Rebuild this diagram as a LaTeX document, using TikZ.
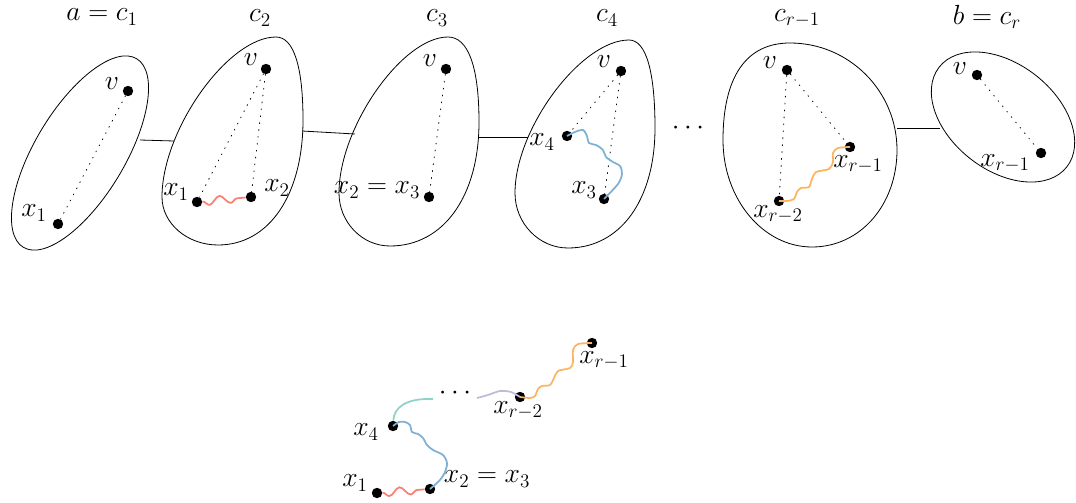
\documentclass[tikz,border=0pt]{standalone}
\usetikzlibrary{decorations.pathmorphing}
\definecolor{cred}{HTML}{FB8072}
\definecolor{cblue}{HTML}{7EB0D5}
\definecolor{cteal}{HTML}{8DD3C7}
\definecolor{cpurple}{HTML}{BEBADA}
\definecolor{corange}{HTML}{FDB462}
\tikzset{
  dotpt/.style={circle,fill=black,inner sep=0pt,minimum size=7.8pt},
  blob/.style={draw=black,line width=0.6pt},
  link/.style={draw=black,line width=0.6pt},
  dotline/.style={line width=0.6pt,dash pattern=on 0.7pt off 4.5pt,line cap=round},
  lbl/.style={inner sep=0pt,font=\huge},
  curvy/.style={line width=1.3pt},
  wave/.style={curvy,decorate,decoration={snake,mirror,segment length=16pt,amplitude=3pt}},
}
% egg outline through its top, right, bottom and left extreme points
\newcommand\eggblob[8]{%
  \draw[blob] (#1,#2)
    .. controls ({#1+0.65*(#3-#1)},#2) and (#3,{#4-0.65*(#4-#2)}) .. (#3,#4)
    .. controls (#3,{#4+0.6*(#6-#4)}) and ({#5+0.6*(#3-#5)},#6) .. (#5,#6)
    .. controls ({#5-0.55*(#5-#7)},#6) and (#7,{#8+0.55*(#6-#8)}) .. (#7,#8)
    .. controls (#7,{#8-0.42*(#8-#2)}) and ({#1-0.42*(#1-#7)},#2) .. (#1,#2) -- cycle;}
\begin{document}
\begin{tikzpicture}[x=0.75pt,y=-0.75pt]
\useasboundingbox (0,0) rectangle (1076,503);

% ---------- blobs ----------
\draw[blob,rotate around={59:(80,153)}] (80,153) ellipse (110 and 45);
\eggblob{276}{37}{303}{120}{218}{245}{162}{197}
\eggblob{448}{37}{479}{122}{390}{246}{339}{193}
\eggblob{629}{40}{655}{128}{568}{248}{515}{193}
\draw[blob] (790,43) .. controls (849,43) and (897,91) .. (897,150)
  .. controls (897,204) and (861,247) .. (812,247)
  .. controls (763,247) and (723,199) .. (723,140)
  .. controls (723,77) and (746,43) .. (790,43) -- cycle;
\draw[blob,rotate around={-38:(1003,117)}] (1003,117) ellipse (81 and 53);

% ---------- top labels ----------
\node[lbl] (t1) at (102,17) {$a=c_1$};
\node[lbl] (t2) at (260,18) {$c_2$};
\node[lbl] (t3) at (437,18) {$c_3$};
\node[lbl] (t4) at (607,18) {$c_4$};
\node[lbl] (t5) at (797,18) {$c_{r-1}$};
\node[lbl] (t6) at (987,17) {$b=c_r$};

% ---------- links between blobs ----------
\coordinate (e12a) at (140,140); \coordinate (e12b) at (174,141);
\coordinate (e23a) at (302,131); \coordinate (e23b) at (355,134);
\coordinate (e34a) at (479,137); \coordinate (e34b) at (528,137);
\coordinate (e56a) at (897,128); \coordinate (e56b) at (940,128);
\draw[link] (e12a) -- (e12b);
\draw[link] (e23a) -- (e23b);
\draw[link] (e34a) -- (e34b);
\draw[link] (e56a) -- (e56b);
\node[lbl] (hdots) at (688,128) {$\cdots$};

% ---------- blob 1 ----------
\node[dotpt] (av) at (128,91) {};
\node[dotpt] (ax1) at (58,224) {};
\node[lbl] (avl) at (112,84) {$v$};
\node[lbl] (ax1l) at (34,213) {$x_1$};
\draw[dotline] (av) -- (ax1);

% ---------- blob 2 ----------
\node[dotpt] (bv) at (266,69) {};
\node[dotpt] (bx1) at (197,202) {};
\node[dotpt] (bx2) at (251,197) {};
\node[lbl] (bvl) at (251,60) {$v$};
\node[lbl] (bx1l) at (176,192) {$x_1$};
\node[lbl] (bx2l) at (277,188) {$x_2$};
\draw[dotline] (bv) -- (bx1);
\draw[dotline] (bv) -- (bx2);
\draw[wave,cred] (bx1) -- (bx2);

% ---------- blob 3 ----------
\node[dotpt] (cv) at (446,69) {};
\node[dotpt] (cx) at (429,197) {};
\node[lbl] (cvl) at (430,61) {$v$};
\node[lbl] (cxl) at (377,190) {$x_2=x_3$};
\draw[dotline] (cv) -- (cx);

% ---------- blob 4 ----------
\node[dotpt] (dv) at (621,71) {};
\node[dotpt] (dx4) at (567,136) {};
\node[dotpt] (dx3) at (604,199) {};
\node[lbl] (dvl) at (604,62) {$v$};
\node[lbl] (dx4l) at (542,142) {$x_4$};
\node[lbl] (dx3l) at (584,190) {$x_3$};
\draw[dotline] (dv) -- (dx4);
\draw[dotline] (dv) -- (dx3);
\draw[curvy,cblue] plot[smooth] coordinates {(567,136) (575,132) (583,130) (587,136) (589,143) (596,145) (603,150) (606,157) (613,162) (620,166) (622,174) (618,184) (604,199)};

% ---------- blob 5 ----------
\node[dotpt] (ev) at (787,70) {};
\node[dotpt] (exa) at (850,147) {};
\node[dotpt] (exb) at (779,201) {};
\node[lbl] (evl) at (770,63) {$v$};
\node[lbl] (exal) at (858,164) {$x_{r-1}$};
\node[lbl] (exbl) at (778,214) {$x_{r-2}$};
\draw[dotline] (ev) -- (exa);
\draw[dotline] (ev) -- (exb);
\draw[curvy,corange] plot[smooth] coordinates {(779,201) (787,201) (794,199) (797,192) (801,188) (809,187) (812,179) (816,172) (829,169) (833,162) (833,153) (838,148) (850,147)};

% ---------- blob 6 ----------
\node[dotpt] (fv) at (977,75) {};
\node[dotpt] (fx) at (1041,153) {};
\node[lbl] (fvl) at (960,69) {$v$};
\node[lbl] (fxl) at (1005,163) {$x_{r-1}$};
\draw[dotline] (fv) -- (fx);

% ---------- bottom path ----------
\node[dotpt] (px1) at (377,493) {};
\node[dotpt] (px2) at (430,489) {};
\node[dotpt] (px4) at (393,426) {};
\node[dotpt] (pxb) at (520,397) {};
\node[dotpt] (pxa) at (592,343) {};
\node[lbl] (px1l) at (355,483) {$x_1$};
\node[lbl] (px2l) at (487,479) {$x_2=x_3$};
\node[lbl] (px4l) at (366,432) {$x_4$};
\node[lbl] (pxbl) at (518,410) {$x_{r-2}$};
\node[lbl] (pxal) at (604,360) {$x_{r-1}$};
\node[lbl] (vdots) at (455,393) {$\cdots$};
\coordinate (tealend) at (433,399);
\coordinate (purpstart) at (477,398);
\draw[wave,cred] (px1) -- (px2);
\draw[curvy,cblue] plot[smooth] coordinates {(393,426) (399,422) (405,422) (410,425) (412,432) (418,434) (423,438) (427,445) (433,450) (443,455) (447,463) (445,472) (440,480) (430,489)};
\draw[curvy,cteal] (px4) .. controls (394,408) and (405,398) .. (tealend);
\draw[curvy,cpurple] plot[smooth] coordinates {(purpstart) (488,395) (500,391) (511,392) (520,397)};
\draw[curvy,corange] plot[smooth] coordinates {(520,397) (530,398) (535,396) (538,389) (542,386) (550,385) (554,378) (558,371) (570,368) (573,362) (573,350) (578,344) (592,343)};
\end{tikzpicture}
\end{document}
